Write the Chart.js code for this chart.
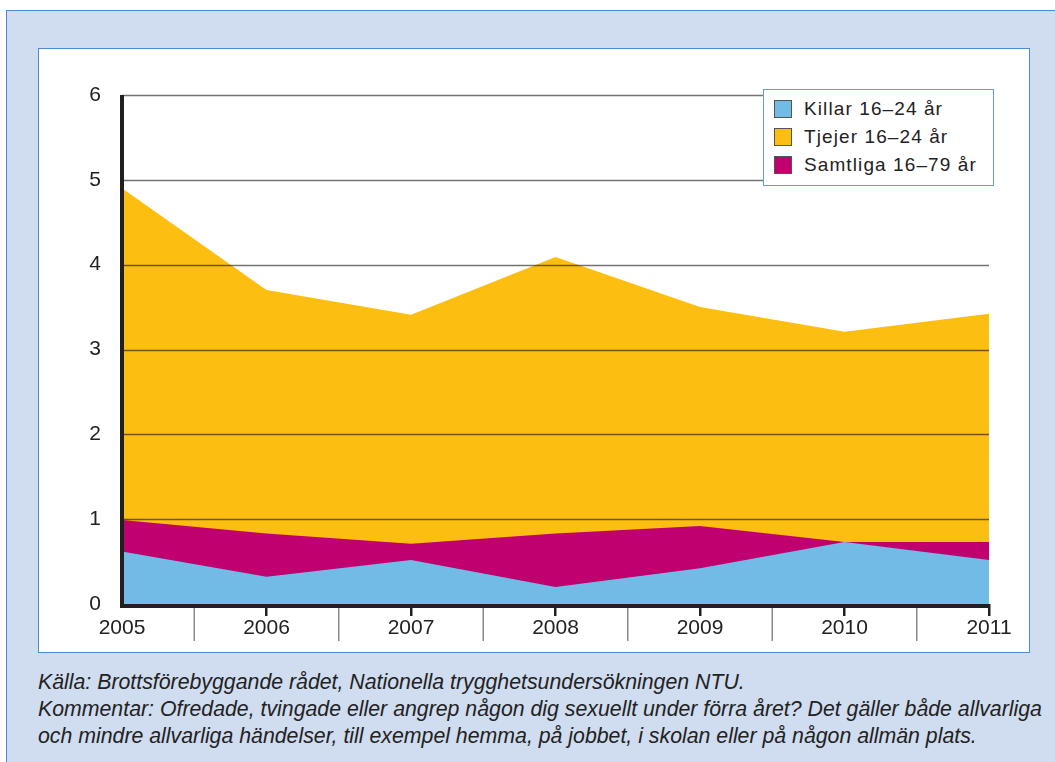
<!DOCTYPE html>
<html>
<head>
<meta charset="utf-8">
<script src="https://cdn.jsdelivr.net/npm/chart.js@4/dist/chart.umd.min.js"></script>
<style>
  body { margin: 0; width: 1055px; height: 762px; background: #ffffff; overflow: hidden; font-family: "Liberation Sans", Arial, sans-serif; }
  .ram { position: absolute; left: 6px; top: 10px; width: 1060px; height: 760px; background: #d0dcef; border: 1px solid #4a8bd6; }
  .panel { position: absolute; left: 38px; top: 48px; width: 990px; height: 603px; background: #fff; border: 1px solid #4a8bd6; }
  .panel canvas { position: absolute; left: 0; top: 0; }
  .legend { position: absolute; left: 724px; top: 40px; width: 229px; height: 95px; border: 1px solid #6a9ad6; background: #fff; }
  .legend div { position: absolute; left: 10px; font-size: 19px; color: #222; line-height: 20px; letter-spacing: 1.1px; white-space: nowrap; }
  .legend span { display: inline-block; width: 18px; height: 18px; border: 1px solid #555; vertical-align: -3px; margin-right: 12px; box-sizing: border-box; }
  .kalla { position: absolute; left: 38px; top: 669px; font-size: 21.3px; font-style: italic; color: #222; line-height: 27px; white-space: nowrap; }
</style>
</head>
<body>
<div class="ram"></div>
<div class="panel">
  <canvas id="graf" width="990" height="603"></canvas>
  <div class="legend" id="legend"></div>
</div>
<div class="kalla">
Källa: Brottsförebyggande rådet, Nationella trygghetsundersökningen NTU.<br>
Kommentar: Ofredade, tvingade eller angrep någon dig sexuellt under förra året? Det gäller både allvarliga<br>
och mindre allvarliga händelser, till exempel hemma, på jobbet, i skolan eller på någon allmän plats.
</div>
<script>
const ar = ["2005", "2006", "2007", "2008", "2009", "2010", "2011"];
const killar = [0.62, 0.32, 0.52, 0.2, 0.42, 0.73, 0.52];
const tjejer = [4.9, 3.7, 3.41, 4.09, 3.5, 3.21, 3.42];
const samtliga = [0.99, 0.83, 0.71, 0.83, 0.92, 0.73, 0.73];
const yTicks = [0, 1, 2, 3, 4, 5, 6];

const serier = [
    { namn: "Killar 16–24 år", data: killar, farg: "#72bbe6", order: 0 },
    { namn: "Tjejer 16–24 år", data: tjejer, farg: "#fdbe12", order: 2 },
    { namn: "Samtliga 16–79 år", data: samtliga, farg: "#c0006e", order: 1 }
];

// legend som vanlig text
const legendElement = document.querySelector("#legend");
serier.forEach((s, i) => {
    const rad = document.createElement("div");
    rad.style.top = (9 + i * 28) + "px";
    rad.innerHTML = `<span style="background:${s.farg}"></span>${s.namn}`;
    legendElement.appendChild(rad);
});

// rutnät och axellinjer ovanpå ytorna + avdelare mellan åren
const rutnat = {
    id: "rutnat",
    afterDatasetsDraw(chart) {
        const ctx = chart.ctx;
        const y = chart.scales.y;
        const x = chart.scales.x;
        const area = chart.chartArea;
        ctx.save();
        ctx.lineWidth = 1.3;
        ctx.strokeStyle = "rgba(0,0,0,0.55)";
        for (let v of yTicks) {
            if (v === 0) continue;
            const py = Math.round(y.getPixelForValue(v)) + 0.5;
            ctx.beginPath();
            ctx.moveTo(area.left, py);
            ctx.lineTo(area.right, py);
            ctx.stroke();
        }
        ctx.strokeStyle = "#8a8a8a";
        ctx.lineWidth = 1.5;
        for (let i = 0; i < ar.length - 1; i++) {
            const px = (x.getPixelForValue(i) + x.getPixelForValue(i + 1)) / 2;
            ctx.beginPath();
            ctx.moveTo(px, area.bottom + 2);
            ctx.lineTo(px, area.bottom + 37);
            ctx.stroke();
        }
        // axlar
        ctx.strokeStyle = "#231f20";
        ctx.lineWidth = 4;
        ctx.beginPath();
        ctx.moveTo(area.left, y.getPixelForValue(6));
        ctx.lineTo(area.left, area.bottom + 2);
        ctx.lineTo(area.right + 1, area.bottom + 2);
        ctx.stroke();
        ctx.restore();
    }
};

const config = {
    type: "line",
    data: {
        labels: ar,
        datasets: serier.map(s => ({
            label: s.namn,
            data: s.data,
            order: s.order,
            backgroundColor: s.farg,
            borderWidth: 0,
            pointRadius: 0,
            tension: 0,
            fill: "origin"
        }))
    },
    options: {
        responsive: false,
        animation: false,
        layout: { padding: { left: 0, right: 40, top: 46, bottom: 0 } },
        plugins: { legend: { display: false }, tooltip: { enabled: false } },
        scales: {
            x: {
                offset: false,
                afterFit: s => { s.height = 48; },
                border: { display: false },
                grid: {
                    drawOnChartArea: false,
                    drawTicks: true,
                    tickLength: 12,
                    lineWidth: 2.5,
                    color: c => c.index === 0 ? "rgba(0,0,0,0)" : "#231f20"
                },
                ticks: { color: "#222", font: { family: "Liberation Sans", size: 21 }, padding: 0, maxRotation: 0 }
            },
            y: {
                min: 0,
                max: 6,
                afterFit: s => { s.width = 83; },
                border: { display: false },
                grid: { display: false, drawTicks: false },
                ticks: { stepSize: 1, color: "#222", font: { family: "Liberation Sans", size: 21 }, padding: 21 }
            }
        }
    },
    plugins: [rutnat]
};

new Chart(document.querySelector("#graf"), config);
</script>
</body>
</html>
